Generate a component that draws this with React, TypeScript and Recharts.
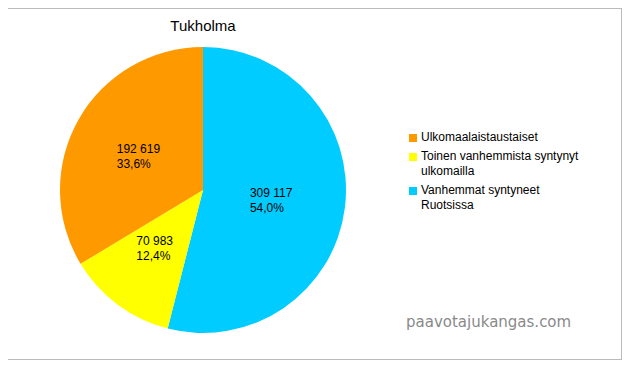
import React from "react";
import { Cell, Legend, Pie, PieChart } from "recharts";

const categories = [
  "Vanhemmat syntyneet Ruotsissa",
  "Toinen vanhemmista syntynyt ulkomailla",
  "Ulkomaalaistaustaiset",
];
const values = [309117, 70983, 192619];
const percentLabels = ["54,0%", "12,4%", "33,6%"];
const colors = ["#00ccff", "#ffff00", "#ff9900"];

const legendItems = [
  { lines: ["Ulkomaalaistaustaiset"], color: "#ff9900" },
  { lines: ["Toinen vanhemmista syntynyt", "ulkomailla"], color: "#ffff00" },
  { lines: ["Vanhemmat syntyneet", "Ruotsissa"], color: "#00ccff" },
];

const data = categories.map((name, i) => ({
  name,
  value: values[i],
  pct: percentLabels[i],
}));

const fmt = (n: number) => n.toString().replace(/\B(?=(\d{3})+(?!\d))/g, " ");

const RADIAN = Math.PI / 180;

function renderLabel(props: any) {
  const { cx, cy, midAngle, outerRadius, index } = props;
  const r = outerRadius * 0.5;
  const x = cx + r * Math.cos(-midAngle * RADIAN);
  const y = cy + r * Math.sin(-midAngle * RADIAN);
  const d = data[index];
  return (
    <text
      x={x - 24}
      y={y - 2}
      fill="#000"
      fontSize={12}
      fontFamily="Liberation Sans, Arial, sans-serif"
      textAnchor="start"
    >
      <tspan x={x - 24} dy={0}>
        {fmt(d.value)}
      </tspan>
      <tspan x={x - 24} dy={15}>
        {d.pct}
      </tspan>
    </text>
  );
}

function LegendContent() {
  return (
    <div style={{ fontFamily: "Liberation Sans, Arial, sans-serif", fontSize: 12, color: "#000" }}>
      {legendItems.map((item) => (
        <div key={item.lines[0]} style={{ display: "flex", marginBottom: 4, lineHeight: "15px" }}>
          <div
            style={{
              width: 8,
              height: 8,
              background: item.color,
              marginTop: 4,
              marginRight: 4,
              flexShrink: 0,
            }}
          />
          <div>
            {item.lines.map((l) => (
              <div key={l}>{l}</div>
            ))}
          </div>
        </div>
      ))}
    </div>
  );
}

export default function App() {
  return (
    <div style={{ position: "relative", marginLeft: -8, marginTop: -8, width: 635, height: 368, background: "#fff" }}>
      <PieChart
        width={635}
        height={368}
        margin={{ top: 0, right: 0, bottom: 0, left: 0 }}
      >
        <rect x={6.5} y={8.5} width={615} height={351} fill="none" stroke="#bbbbbb" strokeWidth={1} />
        <text
          x={203}
          y={31}
          textAnchor="middle"
          fontSize={15}
          fontFamily="Liberation Sans, Arial, sans-serif"
          fill="#000"
        >
          Tukholma
        </text>
        <Pie
          data={data}
          dataKey="value"
          nameKey="name"
          cx={203}
          cy={190}
          outerRadius={143}
          startAngle={90}
          endAngle={-270}
          stroke="none"
          label={renderLabel}
          labelLine={false}
          isAnimationActive={false}
        >
          {data.map((d, i) => (
            <Cell key={d.name} fill={colors[i]} />
          ))}
        </Pie>
        <Legend
          content={<LegendContent />}
          wrapperStyle={{ position: "absolute", left: 409, top: 130, width: 210 }}
        />
        <text
          x={406}
          y={327}
          fontSize={15}
          fontFamily="DejaVu Sans, sans-serif"
          fill="#8a8a8a"
        >
          paavotajukangas.com
        </text>
      </PieChart>
    </div>
  );
}
